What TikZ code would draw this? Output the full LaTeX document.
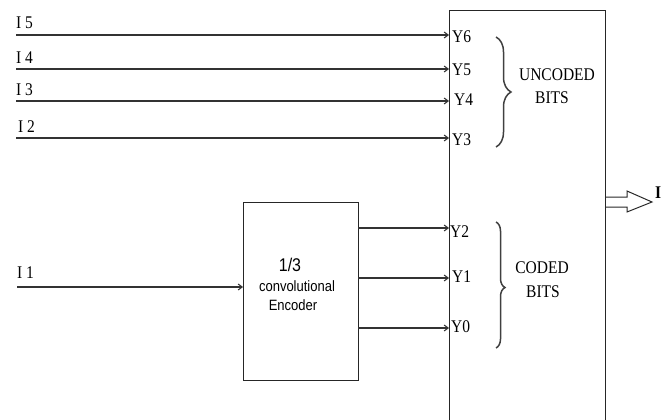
\documentclass[tikz,border=0pt]{standalone}
\usepackage{graphicx}
\usepackage{fontspec}
\setmainfont{Liberation Serif}
\newfontfamily\arialfont{Liberation Sans}
\newcommand\tallt[1]{\scalebox{1}[1.15]{#1}}
\usetikzlibrary{arrows.meta,decorations.pathreplacing}
\tikzset{
  lbl/.style={inner sep=0pt, font=\fontsize{15.5}{17}\selectfont, text=black},
  enclbl/.style={inner sep=0pt, font=\arialfont\fontsize{13}{15}\selectfont},
  wire/.style={draw=black!80, line width=1.1pt, -{Straight Barb[length=4pt,width=6pt]}},
  box/.style={draw=black!85, line width=1pt},
  brc/.style={draw=black!75, line width=1.5pt, decorate},
}
\begin{document}
\begin{tikzpicture}[x=1pt,y=-1pt]
\useasboundingbox (0,0) rectangle (670,420);
% big box (extends past bottom)
\coordinate (bbl) at (449,425);
\coordinate (btl) at (449,11);
\coordinate (btr) at (605,11);
\coordinate (bbr) at (605,425);
\draw[box] (bbl) -- (btl) -- (btr) -- (bbr);
% encoder
\node[box, minimum width=115pt, minimum height=178pt, inner sep=0pt] (enc) at (300.5,291) {};
\node[enclbl, font=\arialfont\fontsize{16}{18}\selectfont] (t13) at (290,265) {\tallt{1/3}};
\node[enclbl] (tconv) at (297,286) {\tallt{convolutional}};
\node[enclbl] (tenc) at (293,305) {\tallt{Encoder}};
% input labels
\node[lbl, anchor=west] (I5) at (16,23) {\tallt{I 5}};
\node[lbl, anchor=west] (I4) at (16,58) {\tallt{I 4}};
\node[lbl, anchor=west] (I3) at (16,90) {\tallt{I 3}};
\node[lbl, anchor=west] (I2) at (18,127) {\tallt{I 2}};
\node[lbl, anchor=west] (I1) at (17,273) {\tallt{I 1}};
% input start coordinates
\coordinate (s5) at (16,35);
\coordinate (s4) at (16,69);
\coordinate (s3) at (16,101);
\coordinate (s2) at (16,138);
\coordinate (s1) at (17,287);
\coordinate (e5) at (449,35);
\coordinate (e4) at (449,69);
\coordinate (e3) at (449,101);
\coordinate (e2) at (449,138);
\coordinate (e1) at (243,287);
\draw[wire] (s5) -- (e5);
\draw[wire] (s4) -- (e4);
\draw[wire] (s3) -- (e3);
\draw[wire] (s2) -- (e2);
\draw[wire] (s1) -- (e1);
% encoder outputs
\coordinate (o2a) at (358,228); \coordinate (o2b) at (449,228);
\coordinate (o1a) at (358,278); \coordinate (o1b) at (449,278);
\coordinate (o0a) at (358,328); \coordinate (o0b) at (449,328);
\draw[wire] (o2a) -- (o2b);
\draw[wire] (o1a) -- (o1b);
\draw[wire] (o0a) -- (o0b);
% Y labels
\node[lbl, anchor=west] (Y6) at (452,37) {\tallt{Y6}};
\node[lbl, anchor=west] (Y5) at (452,70) {\tallt{Y5}};
\node[lbl, anchor=west] (Y4) at (454,100) {\tallt{Y4}};
\node[lbl, anchor=west] (Y3) at (452,140) {\tallt{Y3}};
\node[lbl, anchor=west] (Y2) at (450,232) {\tallt{Y2}};
\node[lbl, anchor=west] (Y1) at (452,277) {\tallt{Y1}};
\node[lbl, anchor=west] (Y0) at (451,327) {\tallt{Y0}};
% braces
\coordinate (ub1) at (496,37); \coordinate (ub2) at (496,147);
\draw[brc, decoration={brace, amplitude=15pt, aspect=0.5}] (ub1) -- (ub2);
\coordinate (lb1) at (496,222); \coordinate (lb2) at (496,348);
\draw[brc, decoration={brace, amplitude=9pt, aspect=0.52}] (lb1) -- (lb2);
\node[lbl] (unc) at (557,75) {\tallt{UNCODED}};
\node[lbl] (ubits) at (552,98) {\tallt{BITS}};
\node[lbl] (cod) at (542,268) {\tallt{CODED}};
\node[lbl] (cbits) at (543,292) {\tallt{BITS}};
% output arrow
\coordinate (a0) at (605,197);
\draw[draw=black!85, line width=1pt] (a0) -- (627,197) -- (627,191) -- (652,202) -- (627,212) -- (627,207) -- (605,207);
\node[lbl, anchor=west, font=\bfseries\fontsize{15.5}{17}\selectfont] (Iout) at (655,193) {\tallt{I}};
\end{tikzpicture}
\end{document}
